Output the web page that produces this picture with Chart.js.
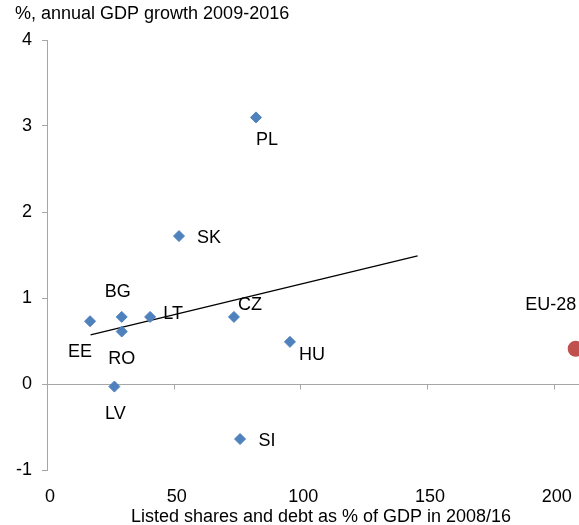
<!DOCTYPE html>
<html>
<head>
<meta charset="utf-8">
<script src="https://cdn.jsdelivr.net/npm/chart.js@4"></script>
<style>
  html, body { margin: 0; padding: 0; background: #fff; }
  #wrap { width: 579px; height: 525px; position: relative; }
</style>
</head>
<body>
<div id="wrap"><canvas id="chart"></canvas></div>
<script>
// country codes and values
const countries = ['EE', 'BG', 'RO', 'LT', 'CZ', 'HU', 'LV', 'SI', 'PL', 'SK'];
const marketSize = [17.0, 29.5, 29.5, 40.7, 73.8, 95.9, 26.6, 76.2, 82.5, 52.1];
const gdpGrowth = [0.73, 0.78, 0.61, 0.78, 0.78, 0.49, -0.03, -0.64, 3.10, 1.72];

const euLabel = 'EU-28';
const euMarketSize = [208.7];
const euGrowth = [0.41];

// trend line end points
const trendX = [17.2, 146.3];
const trendY = [0.57, 1.49];

const yTicks = [-1, 0, 1, 2, 3, 4];
const xTicks = [0, 50, 100, 150, 200];

const yTitle = '%, annual GDP growth 2009-2016';
const xTitle = 'Listed shares and debt as % of GDP in 2008/16';

// where each label sits relative to its point, in px
const labelOffsets = {
    EE: [-10, 31], BG: [-4, -25], RO: [0, 27], LT: [23, -3], CZ: [16, -12],
    HU: [22, 13], LV: [1, 27], SI: [27, 2], PL: [11, 23], SK: [30, 2], 'EU-28': [-25, -44]
};

const FONT = '"Liberation Sans", Arial, sans-serif';
const AXIS_GREY = '#a6a6a6';

const pointLabels = {
    id: 'pointLabels',
    afterDatasetsDraw(chart) {
        const ctx = chart.ctx;
        ctx.save();
        ctx.font = '18px ' + FONT;
        ctx.fillStyle = '#000';
        ctx.textAlign = 'center';
        ctx.textBaseline = 'middle';
        [0, 1].forEach(di => {
            const meta = chart.getDatasetMeta(di);
            const names = di === 0 ? countries : [euLabel];
            meta.data.forEach((pt, i) => {
                const off = labelOffsets[names[i]] || [0, 0];
                ctx.fillText(names[i], pt.x + off[0], pt.y + off[1]);
            });
        });
        ctx.restore();
    }
};

// x axis crosses at y = 0, its labels stay at the bottom
const zeroAxis = {
    id: 'zeroAxis',
    beforeDatasetsDraw(chart) {
        const { ctx, scales: { x, y } } = chart;
        const y0 = Math.round(y.getPixelForValue(0)) + 0.5;
        ctx.save();
        ctx.strokeStyle = AXIS_GREY;
        ctx.lineWidth = 1;
        ctx.beginPath();
        ctx.moveTo(x.left, y0);
        ctx.lineTo(x.right, y0);
        xTicks.forEach(v => {
            const px = Math.round(x.getPixelForValue(v)) + 0.5;
            ctx.moveTo(px, y0);
            ctx.lineTo(px, y0 + 5);
        });
        ctx.stroke();
        ctx.restore();
    },
    afterDraw(chart) {
        const ctx = chart.ctx;
        ctx.save();
        ctx.font = '18px ' + FONT;
        ctx.fillStyle = '#000';
        ctx.textBaseline = 'middle';
        ctx.textAlign = 'left';
        ctx.fillText(yTitle, 15, 14);
        ctx.textAlign = 'center';
        ctx.fillText(xTitle, 321, 517);
        ctx.restore();
    }
};

new Chart(document.getElementById('chart'), {
    type: 'scatter',
    data: {
        datasets: [
            {
                label: 'Countries',
                data: marketSize.map((v, i) => ({ x: v, y: gdpGrowth[i] })),
                pointStyle: 'rectRot',
                pointRadius: 5.5,
                backgroundColor: '#4f81bd',
                borderColor: '#4f81bd',
                borderWidth: 1
            },
            {
                label: euLabel,
                data: euMarketSize.map((v, i) => ({ x: v, y: euGrowth[i] })),
                pointStyle: 'circle',
                pointRadius: 8,
                backgroundColor: '#c0504d',
                borderColor: '#c0504d',
                borderWidth: 0,
                clip: false
            },
            {
                label: 'Trend',
                type: 'line',
                data: trendX.map((v, i) => ({ x: v, y: trendY[i] })),
                borderColor: '#000',
                borderWidth: 1.3,
                pointRadius: 0,
                fill: false
            }
        ]
    },
    options: {
        responsive: true,
        maintainAspectRatio: false,
        animation: false,
        layout: { autoPadding: false, padding: { top: 40, left: 0, right: 0, bottom: 0 } },
        plugins: {
            legend: { display: false },
            tooltip: { enabled: false },
            title: { display: false }
        },
        scales: {
            x: {
                type: 'linear',
                min: 0,
                max: 210,
                afterBuildTicks: s => { s.ticks = xTicks.map(v => ({ value: v })); },
                afterFit: s => { s.height = 55; },
                border: { display: false },
                grid: { display: false },
                ticks: {
                    color: '#000',
                    font: { size: 18, family: FONT },
                    padding: 8,
                    labelOffset: 3,
                    maxRotation: 0
                }
            },
            y: {
                min: -1,
                max: 4,
                afterBuildTicks: s => { s.ticks = yTicks.map(v => ({ value: v })); },
                afterFit: s => { s.width = 47; },
                border: { display: true, color: AXIS_GREY, width: 1 },
                grid: {
                    drawOnChartArea: false,
                    drawTicks: true,
                    tickLength: 5,
                    tickColor: AXIS_GREY
                },
                ticks: {
                    color: '#000',
                    font: { size: 18, family: FONT },
                    padding: 10
                }
            }
        }
    },
    plugins: [zeroAxis, pointLabels]
});
</script>
</body>
</html>
